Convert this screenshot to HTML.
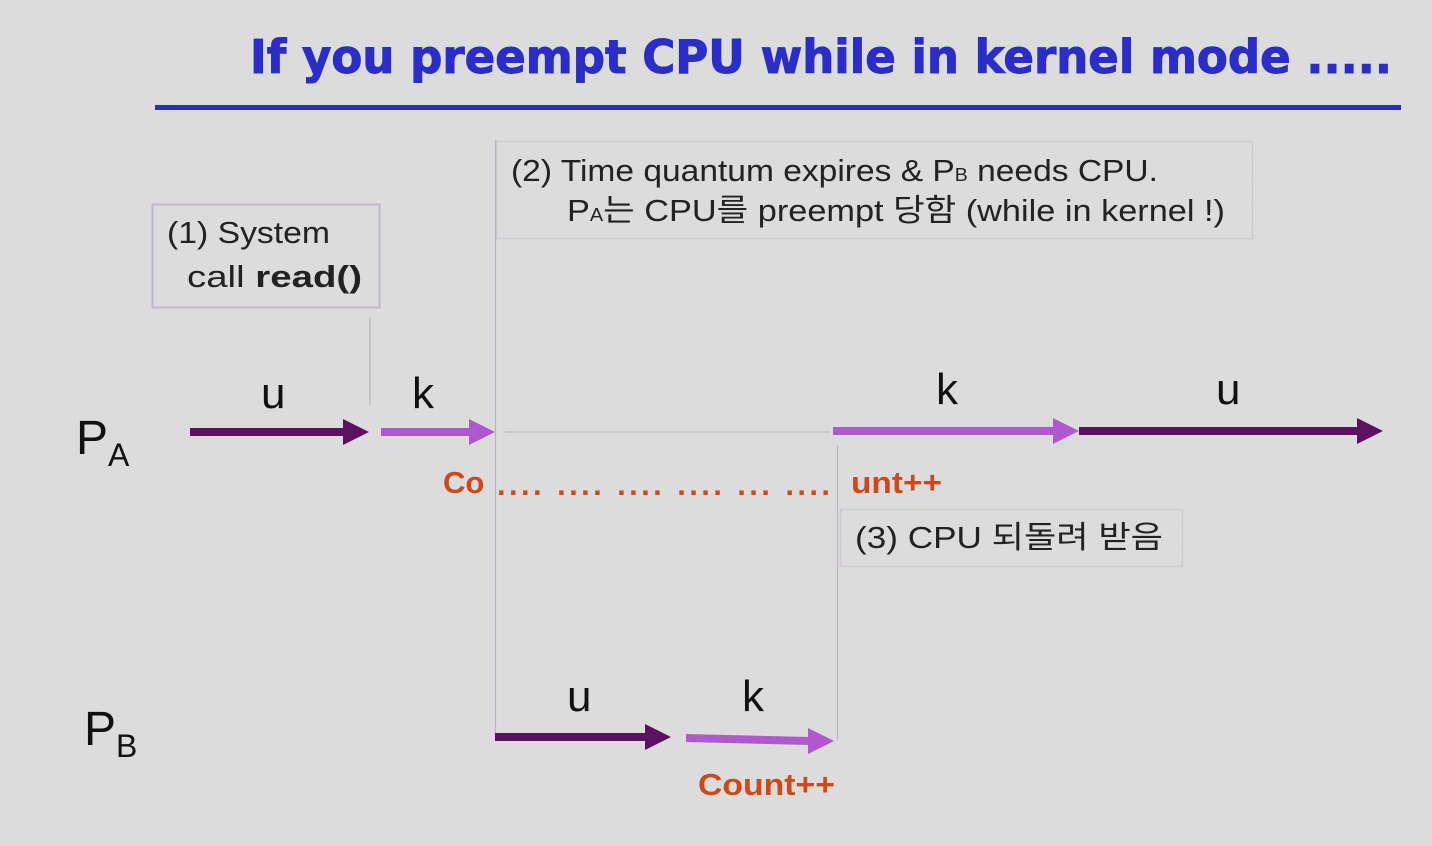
<!DOCTYPE html>
<html><head><meta charset="utf-8"><style>
html,body{margin:0;padding:0;background:#dcdcdc;}
svg{display:block;}
text{font-family:"Liberation Sans","Noto Sans CJK KR",sans-serif;}
</style></head><body>
<svg width="1432" height="846" viewBox="0 0 1432 846" xmlns="http://www.w3.org/2000/svg">
<rect width="1432" height="846" fill="#dcdcdc"/>
<text x="250" y="73" font-weight="bold" font-size="46" fill="#2b2dc8" stroke="#2b2dc8" stroke-width="1" textLength="1142" lengthAdjust="spacingAndGlyphs" style="font-family:'DejaVu Sans',sans-serif">If you preempt CPU while in kernel mode .....</text>
<rect x="155" y="105" width="1246" height="5" fill="#2b2dc8"/>

<rect x="152.5" y="204.5" width="227" height="103" fill="none" stroke="#c4b4cc" stroke-width="2"/>
<text x="167" y="243" font-size="31" fill="#222" textLength="163" lengthAdjust="spacingAndGlyphs">(1) System</text>
<text x="187" y="287" font-size="31" fill="#222" textLength="175" lengthAdjust="spacingAndGlyphs">call  <tspan font-weight="bold">read()</tspan></text>

<rect x="496.5" y="141.5" width="756" height="97" fill="none" stroke="#c8c0cc" stroke-width="1.5" stroke-dasharray="2,1"/>
<text x="511" y="181" font-size="31" fill="#222" textLength="647" lengthAdjust="spacingAndGlyphs">(2) Time quantum expires &amp; P<tspan font-size="18">B</tspan> needs CPU.</text>
<text x="567" y="221" font-size="31" fill="#222" textLength="658" lengthAdjust="spacingAndGlyphs">P<tspan font-size="18">A</tspan>는 CPU를 preempt 당함 (while in kernel !)</text>

<rect x="840.5" y="509.5" width="342" height="57" fill="none" stroke="#c8c0cc" stroke-width="1.5" stroke-dasharray="2,1"/>
<text x="855" y="548" font-size="31" fill="#222" textLength="308" lengthAdjust="spacingAndGlyphs">(3) CPU 되돌려 받음</text>

<line x1="370" y1="318" x2="370" y2="405" stroke="#b8b0bc" stroke-width="1.2"/>
<line x1="495.5" y1="140" x2="495.5" y2="737" stroke="#bfb0c6" stroke-width="1.2"/>
<line x1="837.5" y1="445" x2="837.5" y2="740" stroke="#bfb0c6" stroke-width="1.2"/>
<line x1="505" y1="432" x2="830" y2="432" stroke="#cfc4d4" stroke-width="2"/>

<rect x="190" y="428" width="155" height="8" fill="#5c1060"/>
<polygon points="343,419 369,432 343,445" fill="#5c1060"/>
<rect x="381" y="428" width="90" height="8" fill="#b058d0"/>
<polygon points="469,419 495,432 469,445" fill="#b058d0"/>
<rect x="833" y="427" width="222" height="8" fill="#b058d0"/>
<polygon points="1053,418 1079,431 1053,444" fill="#b058d0"/>
<rect x="1079" y="427" width="280" height="8" fill="#5c1060"/>
<polygon points="1357,418 1383,431 1357,444" fill="#5c1060"/>

<rect x="495" y="733" width="152" height="8" fill="#5c1060"/>
<polygon points="645,724 671,737 645,750" fill="#5c1060"/>
<polygon points="686,734 810,737 810,745 686,742" fill="#b058d0"/>
<polygon points="808,728 834,741 808,754" fill="#b058d0"/>

<g font-size="44" fill="#111">
<text x="261" y="408">u</text>
<text x="412" y="408">k</text>
<text x="936" y="404">k</text>
<text x="1216" y="404">u</text>
<text x="567" y="711">u</text>
<text x="742" y="711">k</text>
</g>
<text x="76" y="454" font-size="48" fill="#111">P<tspan font-size="32" dy="12">A</tspan></text>
<text x="84" y="745" font-size="48" fill="#111">P<tspan font-size="32" dy="12">B</tspan></text>

<g font-size="31" font-weight="bold" fill="#cc4a1a">
<text x="443" y="493">Co</text>
<text x="497" y="495" textLength="333" lengthAdjust="spacing">.... .... ....   ....   ...  ....</text>
<text x="851" y="493" textLength="91" lengthAdjust="spacingAndGlyphs">unt++</text>
<text x="698" y="795" textLength="137" lengthAdjust="spacingAndGlyphs">Count++</text>
</g>
</svg>
</body></html>
